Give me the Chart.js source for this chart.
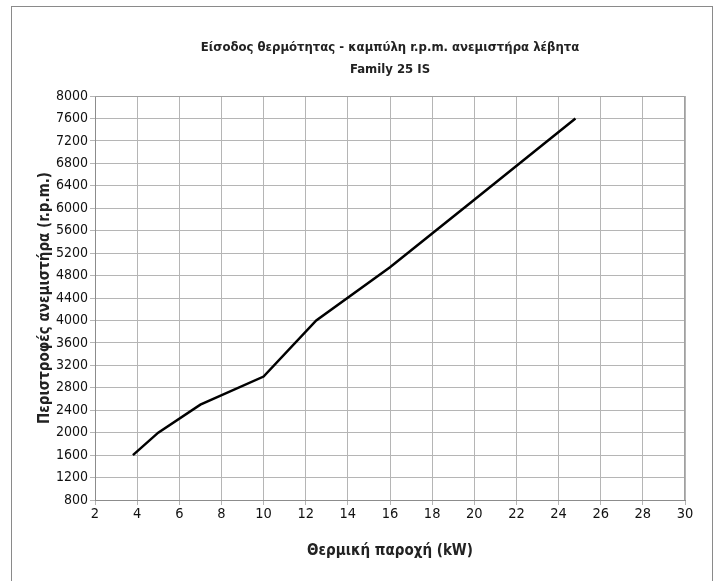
<!DOCTYPE html>
<html>
<head>
<meta charset="utf-8">
<script src="https://cdn.jsdelivr.net/npm/chart.js@4"></script>
<style>
  html, body { margin: 0; padding: 0; background: #fff; overflow: hidden; }
  #frame { position: absolute; left: 11px; top: 6px; width: 702px; height: 600px; border: 1.5px solid #8a8a8a; box-sizing: border-box; }
  #wrap { position: absolute; left: 0; top: 0; width: 718px; height: 581px; }
</style>
</head>
<body>
<div id="frame"></div>
<div id="wrap"><canvas id="fanChart"></canvas></div>
<script>
// heat input (kW) vs fan speed (r.p.m.)
const heatInput = [3.8, 5, 7, 10, 12.5, 16, 20, 24.8];
const fanSpeed = [1600, 2000, 2500, 3000, 4000, 4950, 6150, 7600];
const xTicks = [2, 4, 6, 8, 10, 12, 14, 16, 18, 20, 22, 24, 26, 28, 30];
const yTicks = [800, 1200, 1600, 2000, 2400, 2800, 3200, 3600, 4000, 4400, 4800, 5200, 5600, 6000, 6400, 6800, 7200, 7600, 8000];

const titleLines = ['Είσοδος θερμότητας - καμπύλη r.p.m. ανεμιστήρα λέβητα', 'Family 25 IS'];
const xTitle = 'Θερμική παροχή (kW)';
const yTitle = 'Περιστροφές ανεμιστήρα (r.p.m.)';

const FONT = "'Liberation Sans Narrow', 'DejaVu Sans Condensed', Arial, sans-serif";

// chart title centred over the plot area (the built-in one centres over the whole canvas)
const plotTitle = {
  id: 'plotTitle',
  afterDraw(chart) {
    const a = chart.chartArea, c = chart.ctx;
    const cx = (a.left + a.right) / 2;
    c.save();
    c.fillStyle = '#222';
    c.font = 'bold 13px ' + FONT;
    c.textAlign = 'center';
    c.textBaseline = 'middle';
    c.fillText(titleLines[0], cx, 48);
    c.fillText(titleLines[1], cx, 70);
    c.restore();
  }
};

const plotBorder = {
  id: 'plotBorder',
  afterDraw(chart) {
    const a = chart.chartArea, c = chart.ctx;
    c.save();
    c.strokeStyle = '#a0a0a0';
    c.lineWidth = 1;
    c.beginPath();
    c.moveTo(a.left, a.top + 0.5);
    c.lineTo(a.right - 0.5, a.top + 0.5);
    c.lineTo(a.right - 0.5, a.bottom);
    c.stroke();
    c.restore();
  }
};

const ctx = document.getElementById('fanChart').getContext('2d');
new Chart(ctx, {
  type: 'line',
  data: {
    datasets: [{
      data: heatInput.map((x, i) => ({ x: x, y: fanSpeed[i] })),
      borderColor: '#000',
      borderWidth: 2.5,
      pointRadius: 0,
      tension: 0,
      fill: false
    }]
  },
  options: {
    responsive: true,
    maintainAspectRatio: false,
    animation: false,
    layout: { padding: { left: 0, right: 33, top: 96, bottom: 0 } },
    plugins: {
      legend: { display: false },
      tooltip: { enabled: false },
      title: { display: false }
    },
    scales: {
      x: {
        type: 'linear',
        min: 2,
        max: 30,
        afterBuildTicks: s => { s.ticks = xTicks.map(v => ({ value: v })); },
        afterFit: s => { s.height = 81; },
        grid: { color: '#b5b5b5', lineWidth: 1, tickLength: 5 },
        border: { color: '#8c8c8c', width: 1 },
        ticks: { color: '#111', padding: 1, font: { family: FONT, size: 14.5 } },
        title: {
          display: true,
          text: xTitle,
          color: '#222',
          font: { family: FONT, size: 15, weight: 'bold', lineHeight: 1.2 },
          padding: { top: 0, bottom: 21 }
        }
      },
      y: {
        type: 'linear',
        min: 800,
        max: 8000,
        afterBuildTicks: s => { s.ticks = yTicks.map(v => ({ value: v })); },
        afterFit: s => { s.width = 95; },
        grid: { color: '#b5b5b5', lineWidth: 1, tickLength: 5 },
        border: { color: '#8c8c8c', width: 1 },
        ticks: { color: '#111', padding: 2, font: { family: FONT, size: 14 }, callback: v => String(v) },
        title: {
          display: true,
          text: yTitle,
          color: '#222',
          font: { family: FONT, size: 15, weight: 'bold', lineHeight: 1.2 },
          padding: { top: 36, bottom: 0 }
        }
      }
    }
  },
  plugins: [plotBorder, plotTitle]
});
</script>
</body>
</html>
